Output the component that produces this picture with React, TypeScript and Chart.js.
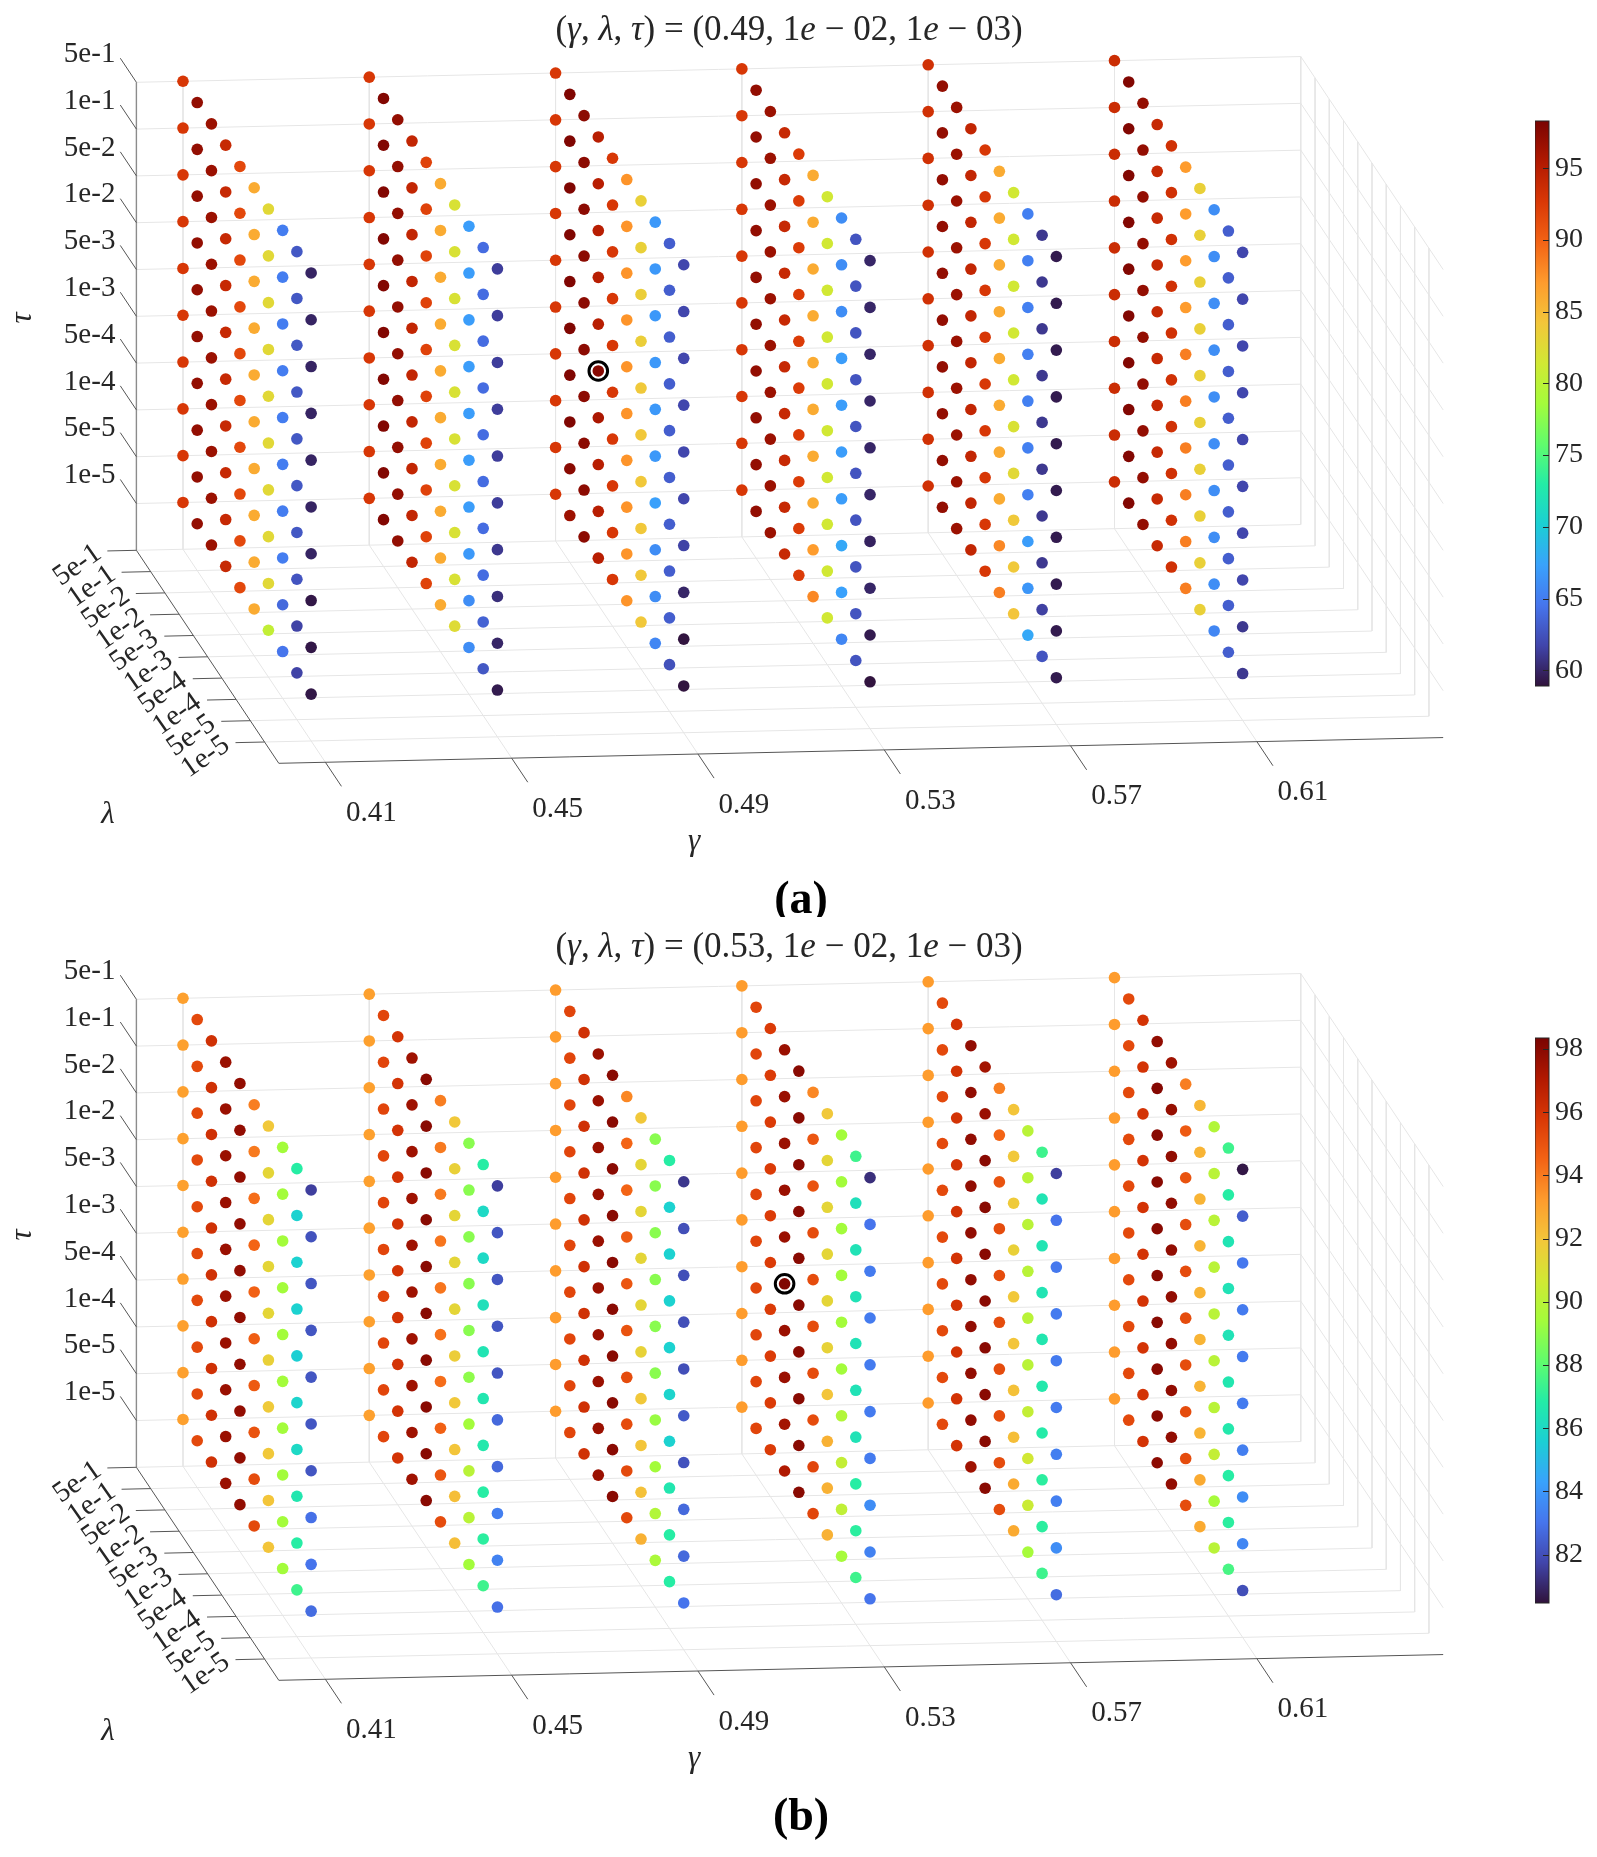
import { useEffect, useRef } from "react"
import { Chart, registerables } from "chart.js"

Chart.register(...registerables)

const gammaTicks = ["0.41", "0.45", "0.49", "0.53", "0.57", "0.61"]
const lambdaTicks = ["5e-1", "1e-1", "5e-2", "1e-2", "5e-3", "1e-3", "5e-4", "1e-4", "5e-5", "1e-5"]
const tauTicks = ["5e-1", "1e-1", "5e-2", "1e-2", "5e-3", "1e-3", "5e-4", "1e-4", "5e-5", "1e-5"]

// accuracy grids, one row per lambda, one column per tau
const a041 = [
  [92.8, 92.8, 92.8, 92.8, 92.8, 92.8, 92.8, 92.8, 92.8, 92.8],
  [97, 97, 97, 97, 97, 97, 97, 97, 97, 97],
  [96.6, 96.6, 96.6, 96.6, 96.6, 96.6, 96.6, 96.6, 96.6, 96.6],
  [94, 94, 94, 94, 94, 94, 94, 94, 94, 94],
  [91.6, 91.6, 91.6, 91.6, 91.6, 91.6, 91.6, 91.6, 91.6, 91.6],
  [86, 86, 86, 86, 86, 86, 86, 86, 86, 86],
  [82.7, 82.7, 82.7, 82.7, 82.7, 82.7, 82.7, 82.7, 82.7, 80.5],
  [65, 65, 65, 65, 65, 65, 65, 65, 63.8, 64.5],
  [62.8, 62.8, 62.8, 62.8, 62.8, 62.8, 62.8, 62.6, 61.6, 61.6],
  [59.9, 59.9, 59.9, 59.9, 59.9, 59.9, 59.9, 59.2, 59.2, 59.2],
]
const a045 = [
  [92.8, 92.8, 92.8, 92.8, 92.8, 92.8, 92.8, 92.8, 92.8, 92.8],
  [97.9, 97.9, 97.9, 97.9, 97.9, 97.9, 97.9, 97.9, 97.9, 97.9],
  [97, 97, 97, 97, 97, 97, 97, 97, 97, 97],
  [94.3, 94.3, 94.3, 94.3, 94.3, 94.3, 94.3, 94.3, 94.3, 94.3],
  [92, 92, 92, 92, 92, 92, 92, 92, 92, 92],
  [86, 86, 86, 86, 86, 86, 86, 86, 86, 86],
  [82, 82, 82, 82, 82, 82, 82, 82, 82, 82.5],
  [67, 67, 67, 67, 67, 67, 67, 66.8, 66, 66],
  [64, 64, 64, 64, 64, 64, 64, 64, 63.4, 62.8],
  [61.3, 61.3, 61.3, 61.3, 61.3, 61.3, 61, 60.5, 60, 59.4],
]
const a049 = [
  [92.8, 92.8, 92.8, 92.8, 92.8, 92.8, 92.8, 92.8, 92.8, 92.8],
  [98, 98, 98, 98, 98, 98, 98, 98, 97.5, 96.5],
  [97.4, 97.4, 97.4, 97.4, 97.4, 97.4, 97.4, 97.4, 97.4, 97.4],
  [95, 95, 95, 95, 95, 97.6, 95.8, 95, 95, 95],
  [92.8, 92.8, 92.8, 92.8, 92.8, 92.8, 92.8, 92.8, 92.8, 92.8],
  [87.4, 87.4, 87.4, 87.4, 87.4, 87.4, 87.4, 87.4, 87.4, 87.4],
  [83.4, 83.4, 83.6, 83.6, 84, 84.1, 84.1, 84.1, 84.1, 84.1],
  [66.7, 66.7, 66.7, 66.7, 66.7, 66.7, 67.2, 66, 66, 65.6],
  [63.2, 63.2, 63.2, 63.2, 63.2, 63.2, 63.2, 63.2, 63.2, 62.4],
  [61.8, 61.8, 61.8, 61.8, 61.8, 61.8, 61.6, 60, 59, 59],
]
const a053 = [
  [92.8, 92.8, 92.8, 92.8, 92.8, 92.8, 92.8, 92.8, 92.8, 92.8],
  [97, 97, 97, 97, 97, 97, 97, 97, 97, 97],
  [96.6, 96.6, 96.6, 96.6, 96.6, 96.6, 96.6, 96.6, 96.6, 96.6],
  [94, 94, 94, 94, 94, 94, 94, 94, 94, 94],
  [92.5, 92.5, 92.5, 92.5, 92.5, 92.5, 92.5, 92.5, 92.5, 92.5],
  [86, 86, 86, 86, 86, 86, 86, 86, 87, 88],
  [81.4, 81.4, 81.4, 81.4, 81.4, 81.4, 81.4, 81.4, 81.4, 81.4],
  [66, 66, 66, 67, 67, 67, 67, 67.7, 67.3, 65.6],
  [62.6, 62.6, 62.6, 62.6, 62.6, 62.6, 62.6, 62.6, 62.6, 62.6],
  [60, 60, 60, 60, 60, 60, 59.8, 60, 59.4, 59],
]
const a057 = [
  [93.3, 93.3, 93.3, 93.3, 93.3, 93.3, 93.3, 93.3, 93.3, 93.3],
  [97, 97, 97, 97, 97, 97, 97, 97, 97, 97],
  [96.6, 96.6, 96.6, 96.6, 96.6, 96.6, 96.6, 96.6, 96.6, 96.6],
  [94.3, 94.3, 94.3, 94.3, 94.3, 94.3, 94.3, 94.3, 94.3, 94.3],
  [92.8, 92.8, 92.8, 92.8, 92.8, 92.8, 92.8, 92.8, 92.8, 92.8],
  [86, 86, 86, 86, 86, 86, 86, 86, 88, 88.5],
  [81.4, 81.4, 81.4, 81.4, 81.4, 82, 82.7, 84, 84, 84.3],
  [65.2, 65.2, 65.2, 65.2, 65.2, 65.2, 65.2, 67, 66.6, 67.7],
  [61, 61, 61, 61, 61, 61, 61, 61, 61.5, 62.6],
  [59.4, 59.4, 59.4, 59.4, 59.4, 59.4, 59.4, 59.4, 59.4, 59.4],
]
const a061 = [
  [93.7, 93.7, 93.7, 93.7, 93.7, 93.7, 93.7, 93.7, 93.7, 93.7],
  [97.9, 97.9, 97.9, 97.9, 97.9, 97.9, 97.9, 97.9, 97.9, 97.9],
  [97, 97, 97, 97, 97, 97, 97, 97, 97, 97],
  [94, 94, 94, 94, 94, 94, 94, 94, 94, 94],
  [93.3, 93.3, 93.3, 93.3, 93.3, 93.3, 93.3, 93.3, 93.3, 93.3],
  [87, 87, 87, 87, 88.5, 88.5, 88.5, 88.5, 88.5, 88.5],
  [83.4, 83.4, 83.4, 83.4, 83.4, 83.4, 83.4, 83.4, 83.4, 83.4],
  [66.1, 66.1, 66.1, 66.1, 66.1, 66.1, 66.1, 66.1, 66.1, 65.6],
  [63.2, 63.2, 63.2, 63.2, 63.2, 63.2, 63.2, 63.2, 63.2, 63.2],
  [61.8, 61.8, 61.8, 61.8, 61.8, 61.8, 61.8, 61.8, 61, 61],
]

const b041 = [
  [93.1, 93.1, 93.1, 93.1, 93.1, 93.1, 93.1, 93.1, 93.1, 93.1],
  [95.3, 95.3, 95.3, 95.3, 95.3, 95.3, 95.3, 95.3, 95.3, 95.3],
  [96.1, 96.1, 96.1, 96.1, 96.1, 96.1, 96.1, 96.1, 96.1, 96.1],
  [97.6, 97.6, 97.6, 97.6, 97.6, 97.6, 97.6, 97.6, 97.6, 97.6],
  [97.8, 97.8, 97.8, 97.8, 97.8, 97.8, 97.8, 97.8, 97.8, 97.8],
  [93.9, 94, 94.3, 94.5, 94.6, 94.7, 94.8, 95, 95.2, 95.3],
  [91.9, 91.4, 91.4, 91.4, 91.4, 91.6, 91.8, 91.9, 92, 92],
  [89.4, 89.4, 89.4, 89.4, 89.4, 89.4, 89.4, 89.4, 89.4, 89.4],
  [86.9, 85.7, 85.7, 85.7, 85.6, 85.8, 86, 86.6, 86.9, 87.4],
  [81.6, 82.1, 82.2, 82.2, 82.2, 82.2, 82.2, 82.9, 83, 82.8],
]
const b045 = [
  [93.1, 93.1, 93.1, 93.1, 93.1, 93.1, 93.1, 93.1, 93.1, 93.1],
  [95.4, 95.4, 95.4, 95.4, 95.4, 95.4, 95.4, 95.4, 95.4, 95.4],
  [96, 96, 96, 96, 96, 96, 96, 96, 96, 96],
  [97.5, 97.5, 97.5, 97.5, 97.5, 97.5, 97.5, 97.5, 97.5, 97.5],
  [98, 98, 98, 98, 98, 98, 98, 98, 98, 98],
  [93.9, 94, 94, 94.1, 94.1, 94.2, 94.3, 94.6, 94.9, 95.2],
  [91.9, 91.6, 91.4, 91.4, 91.4, 91.7, 91.9, 92, 92.2, 92.2],
  [88.9, 88.9, 88.9, 88.9, 88.9, 89, 89.4, 90, 90, 89.4],
  [86.9, 86, 86, 86.3, 86.5, 86.6, 86.7, 86.9, 87, 87.4],
  [81.6, 82.2, 82.2, 82.2, 82.2, 82.7, 82.7, 83.3, 83.4, 82.9],
]
const b049 = [
  [93.2, 93.2, 93.2, 93.2, 93.2, 93.2, 93.2, 93.2, 93.2, 93.2],
  [95.4, 95.4, 95.4, 95.4, 95.4, 95.4, 95.4, 95.4, 95.4, 95.4],
  [96.1, 96.1, 96.1, 96.1, 96.1, 96.1, 96.1, 96.1, 96.1, 96.1],
  [97.6, 97.6, 97.6, 97.6, 97.6, 97.6, 97.6, 97.6, 97.6, 97.6],
  [98, 98, 98, 98, 98, 98, 98, 98, 98, 98],
  [93.7, 94.5, 94.5, 94.8, 94.9, 95, 95.2, 95.2, 95.3, 95.3],
  [91.9, 91.4, 91.4, 91.4, 91.4, 91.5, 91.9, 92, 92.1, 92.6],
  [88.9, 88.9, 88.9, 88.9, 88.9, 88.9, 89.2, 89.4, 89.8, 89.6],
  [86.9, 85.7, 85.7, 85.7, 85.7, 85.8, 85.7, 86.6, 86.9, 86.9],
  [81.4, 82, 82, 82, 82, 82.3, 82.1, 82.7, 82.7, 83],
]
const b053 = [
  [93.2, 93.2, 93.2, 93.2, 93.2, 93.2, 93.2, 93.2, 93.2, 93.2],
  [95.4, 95.4, 95.4, 95.4, 95.4, 95.4, 95.4, 95.4, 95.4, 95.4],
  [95.7, 95.7, 95.7, 95.7, 95.7, 95.7, 95.7, 95.7, 95.7, 95.7],
  [97.6, 97.6, 97.6, 97.6, 97.6, 98.2, 97.6, 97.6, 97.4, 97.1],
  [98, 98, 98, 98, 98, 98, 98, 98, 98, 98],
  [93.7, 94.9, 95, 95.2, 95.2, 95.2, 95.2, 95.2, 95.4, 95.4],
  [91.9, 91.4, 91.4, 91.4, 91.4, 91.5, 92, 92.6, 92.6, 92.6],
  [89.4, 89.4, 89.4, 89.4, 89.4, 89.4, 89.8, 90.3, 90.2, 89.5],
  [87.4, 86.3, 86.4, 86.4, 86.4, 86.4, 86.4, 86.9, 87, 87.4],
  [81.2, 83, 83.2, 83.2, 83.2, 83.2, 83.2, 83.7, 83.4, 83],
]
const b057 = [
  [93.2, 93.2, 93.2, 93.2, 93.2, 93.2, 93.2, 93.2, 93.2, 93.2],
  [95.3, 95.3, 95.3, 95.3, 95.3, 95.3, 95.3, 95.3, 95.3, 95.3],
  [96, 96, 96, 96, 96, 96, 96, 96, 96, 96],
  [97.8, 97.8, 97.8, 97.8, 97.8, 97.8, 97.8, 97.8, 97.8, 97.5],
  [97.4, 97.6, 98, 98, 98, 98, 98, 98, 98, 98],
  [93.9, 94.5, 95, 95.2, 95.2, 95.2, 95.2, 95.2, 95.2, 95.2],
  [92, 91.9, 91.8, 91.6, 91.9, 92, 92.1, 92.2, 92.8, 92.8],
  [90, 90, 90, 90, 90, 90, 90.3, 90.7, 90.5, 89.5],
  [87.4, 86.5, 86.5, 86.5, 86.6, 86.7, 86.8, 87, 87, 87.4],
  [81.6, 83, 83.1, 83.2, 83.2, 83.2, 83.3, 83.3, 83.7, 82.8],
]
const b061 = [
  [93.2, 93.2, 93.2, 93.2, 93.2, 93.2, 93.2, 93.2, 93.2, 93.2],
  [95.3, 95.3, 95.3, 95.3, 95.3, 95.3, 95.3, 95.3, 95.3, 95.3],
  [96, 96, 96, 96, 96, 96, 96, 96, 96, 96],
  [97.8, 98.1, 98, 98, 98, 98, 98, 98, 98, 97.9],
  [97.5, 97.7, 97.8, 97.8, 97.8, 97.8, 97.8, 97.8, 97.8, 97.8],
  [93.9, 94.8, 95, 95.2, 95.2, 95.2, 95.2, 95.2, 95.2, 95.2],
  [92.4, 92.5, 92.5, 92.5, 92.5, 92.5, 92.5, 92.5, 92.8, 92.8],
  [89.8, 90, 90, 90, 90, 90, 90, 90.3, 89.5, 90],
  [87.4, 86.9, 86.5, 86.4, 86.4, 86.6, 86.7, 86.9, 87, 87.6],
  [80.6, 82.4, 83.1, 83.2, 83.2, 83.2, 83.3, 83.7, 83.5, 82],
]

const gridsA = [a041, a045, a049, a053, a057, a061]
const gridsB = [b041, b045, b049, b053, b057, b061]

const turbo = [
  "#30123b", "#4145ab", "#4675ed", "#39a2fc", "#1bcfd4", "#24eca6", "#61fc6c", "#a4fc3b",
  "#d1e834", "#f3c63a", "#fe9b2d", "#f36315", "#d93806", "#b11901", "#7a0402",
]

const serif = '"Liberation Serif", serif'
const ink = "#262626"
const gammaStart = -0.25
const gammaEnd = 6

function hexToRgb(hex: string) {
  return [1, 3, 5].map((i) => parseInt(hex.slice(i, i + 2), 16))
}

function turboColor(v: number, min: number, max: number) {
  const t = Math.min(1, Math.max(0, (v - min) / (max - min))) * (turbo.length - 1)
  const i = Math.min(turbo.length - 2, Math.floor(t))
  const a = hexToRgb(turbo[i])
  const b = hexToRgb(turbo[i + 1])
  const c = a.map((n, idx) => Math.round(n + (b[idx] - n) * (t - i)))
  return `rgb(${c[0]},${c[1]},${c[2]})`
}

// oblique view of the 3d box: g = gamma index, l = lambda index, k = tau index
function project(g: number, l: number, k: number) {
  return {
    x: 136.4 + 14.24 * l + 186.3 * (g + 0.25),
    y: 82.3 + 21.3 * l + 46.8 * k - 4.12 * (g + 0.25),
  }
}

type Pt = { x: number; y: number }

function segments(list: [number, number, number, number, number, number][]) {
  const out: Pt[] = []
  list.forEach(([g0, l0, k0, g1, l1, k1]) => {
    out.push(project(g0, l0, k0), project(g1, l1, k1), { x: NaN, y: NaN })
  })
  return out
}

function gridSegments() {
  const s: [number, number, number, number, number, number][] = []
  for (let k = 0; k < 10; k++) {
    s.push([gammaStart, 0, k, gammaEnd, 0, k])
    s.push([gammaEnd, 0, k, gammaEnd, 10, k])
  }
  for (let g = 0; g < 6; g++) {
    s.push([g, 0, 0, g, 0, 10])
    s.push([g, 0, 10, g, 10, 10])
  }
  s.push([gammaEnd, 0, 0, gammaEnd, 0, 10])
  for (let l = 0; l < 10; l++) {
    s.push([gammaStart, l, 10, gammaEnd, l, 10])
    if (l > 0) s.push([gammaEnd, l, 0, gammaEnd, l, 10])
  }
  return segments(s)
}

function tickSegments() {
  const s: [number, number, number, number, number, number][] = []
  for (let k = 0; k < 10; k++) s.push([gammaStart, 0, k, gammaStart, -1.13, k])
  for (let l = 0; l < 10; l++) s.push([gammaStart, l, 10, gammaStart - 0.156, l, 10])
  for (let g = 0; g < 6; g++) s.push([g, 10, 10, g, 11.13, 10])
  s.push([gammaStart, 0, 10, gammaStart, 10, 10])
  s.push([gammaStart, 10, 10, gammaEnd, 10, 10])
  return segments(s)
}

interface PanelProps {
  grids: number[][][]
  min: number
  max: number
  gammaLabel: string
  pick: [number, number, number]
  label: string
  top: number
  height: number
}

function Panel({ grids, min, max, gammaLabel, pick, label, top, height }: PanelProps) {
  const chartRef = useRef<HTMLCanvasElement | null>(null)

  useEffect(() => {
    if (!chartRef.current) return

    const points: Pt[] = []
    const colors: string[] = []
    grids.forEach((grid, g) => {
      grid.forEach((row, l) => {
        row.forEach((v, k) => {
          points.push(project(g, l, k))
          colors.push(turboColor(v, min, max))
        })
      })
    })

    const textPlugin = {
      id: "boxText",
      afterDraw(chart: any) {
        const { ctx, scales } = chart
        const px = (p: Pt) => ({ x: scales.x.getPixelForValue(p.x), y: scales.y.getPixelForValue(p.y) })
        ctx.save()
        ctx.fillStyle = ink
        ctx.textBaseline = "middle"

        ctx.font = `29px ${serif}`
        ctx.textAlign = "right"
        tauTicks.forEach((t, k) => {
          const p = px(project(gammaStart, 0, k))
          ctx.fillText(t, p.x - 21, p.y - 28)
        })
        ctx.textAlign = "center"
        gammaTicks.forEach((t, g) => {
          const p = px(project(g, 10, 10))
          ctx.fillText(t, p.x + 46, p.y + 51)
        })
        lambdaTicks.forEach((t, l) => {
          const p = px(project(gammaStart, l, 10))
          ctx.save()
          ctx.translate(p.x - 59, p.y + 15)
          ctx.rotate((-35 * Math.PI) / 180)
          ctx.fillText(t, 0, 0)
          ctx.restore()
        })

        ctx.font = `italic 31px ${serif}`
        ctx.fillText("\u03bb", 108, 815)
        ctx.fillText("\u03b3", 694, 842)
        ctx.save()
        ctx.translate(23, 318)
        ctx.rotate(-Math.PI / 2)
        ctx.fillText("\u03c4", 0, 0)
        ctx.restore()

        // title, mixed upright and italic runs
        const runs: [string, boolean][] = [
          ["(", false], ["\u03b3", true], [", ", false], ["\u03bb", true], [", ", false], ["\u03c4", true],
          [`) = (${gammaLabel}, 1`, false], ["e", true], [" \u2212 02, 1", false], ["e", true], [" \u2212 03)", false],
        ]
        const fontFor = (it: boolean) => `${it ? "italic " : ""}35px ${serif}`
        let w = 0
        runs.forEach(([t, it]) => {
          ctx.font = fontFor(it)
          w += ctx.measureText(t).width
        })
        let x = 789 - w / 2
        ctx.textAlign = "left"
        runs.forEach(([t, it]) => {
          ctx.font = fontFor(it)
          ctx.fillText(t, x, 31)
          x += ctx.measureText(t).width
        })

        ctx.fillStyle = "#000"
        ctx.textAlign = "center"
        ctx.font = `bold 46px ${serif}`
        ctx.fillText(label, 801, 901)
        ctx.restore()
      },
    }

    const chart = new Chart(chartRef.current, {
      type: "scatter",
      data: {
        datasets: [
          {
            data: [project(pick[0], pick[1], pick[2])],
            pointRadius: 9.3,
            pointBorderWidth: 3,
            pointBorderColor: "#000",
            pointBackgroundColor: "rgba(0,0,0,0)",
            order: 0,
          },
          {
            data: points,
            pointRadius: 5.8,
            pointBorderWidth: 0,
            pointBackgroundColor: colors,
            order: 1,
          },
          {
            data: tickSegments(),
            showLine: true,
            pointRadius: 0,
            borderColor: "#555555",
            borderWidth: 1,
            spanGaps: false,
            order: 2,
          },
          {
            data: segments([[gammaStart, 0, 0, gammaStart, 0, 10]]),
            showLine: true,
            pointRadius: 0,
            borderColor: "#8c8c8c",
            borderWidth: 1.4,
            order: 3,
          },
          {
            data: gridSegments(),
            showLine: true,
            pointRadius: 0,
            borderColor: "#e6e6e6",
            borderWidth: 1,
            spanGaps: false,
            order: 4,
          },
        ],
      } as any,
      options: {
        responsive: false,
        animation: false,
        devicePixelRatio: 1,
        events: [],
        layout: { padding: 0, autoPadding: false },
        plugins: { legend: { display: false }, tooltip: { enabled: false } },
        scales: {
          x: { type: "linear", display: false, min: 0, max: 1597 },
          y: { type: "linear", display: false, min: 0, max: height, reverse: true },
        },
      },
      plugins: [textPlugin],
    })

    return () => chart.destroy()
  }, [grids, min, max, gammaLabel, pick, label, height])

  return (
    <canvas
      ref={chartRef}
      width={1597}
      height={height}
      style={{ position: "absolute", left: 0, top, display: "block" }}
    ></canvas>
  )
}

interface ColorBarProps {
  min: number
  max: number
  step: number
  top: number
}

function ColorBar({ min, max, step, top }: ColorBarProps) {
  const chartRef = useRef<HTMLCanvasElement | null>(null)

  useEffect(() => {
    if (!chartRef.current) return

    const framePlugin = {
      id: "barFrame",
      afterDraw(chart: any) {
        const { ctx, chartArea, scales } = chart
        ctx.save()
        ctx.strokeStyle = ink
        ctx.lineWidth = 1
        ctx.strokeRect(chartArea.left, chartArea.top, chartArea.width, chartArea.height)
        scales.y.ticks.forEach((t: any) => {
          const y = Math.round(scales.y.getPixelForValue(t.value)) + 0.5
          ctx.beginPath()
          ctx.moveTo(chartArea.right, y)
          ctx.lineTo(chartArea.right - 6, y)
          ctx.stroke()
        })
        ctx.restore()
      },
    }

    const chart = new Chart(chartRef.current, {
      type: "bar",
      data: {
        labels: [""],
        datasets: [
          {
            data: [[min, max]],
            barPercentage: 1,
            categoryPercentage: 1,
            borderWidth: 0,
            backgroundColor: (c: any) => {
              const area = c.chart.chartArea
              if (!area) return "#000"
              const g = c.chart.ctx.createLinearGradient(0, area.bottom, 0, area.top)
              turbo.forEach((col, i) => g.addColorStop(i / (turbo.length - 1), col))
              return g
            },
          },
        ],
      } as any,
      options: {
        responsive: false,
        animation: false,
        devicePixelRatio: 1,
        events: [],
        layout: { padding: { top: 16, bottom: 16 }, autoPadding: false },
        plugins: { legend: { display: false }, tooltip: { enabled: false } },
        scales: {
          x: { display: false },
          y: {
            position: "right",
            min,
            max,
            grid: { display: false, drawTicks: false },
            border: { display: false },
            ticks: {
              stepSize: step,
              includeBounds: false,
              padding: 6,
              color: ink,
              font: { family: serif, size: 28 },
            },
            // tick labels must not shrink the bar
            afterFit: (s: any) => {
              s.width = 48
              s.paddingTop = 0
              s.paddingBottom = 0
            },
          },
        },
      } as any,
      plugins: [framePlugin],
    })

    return () => chart.destroy()
  }, [min, max, step])

  return (
    <canvas
      ref={chartRef}
      width={62}
      height={597}
      style={{ position: "absolute", left: 1535, top: top - 16, display: "block" }}
    ></canvas>
  )
}

export default function App() {
  return (
    <div style={{ position: "absolute", left: 0, top: 0, width: 1597, height: 1857, background: "#fff", overflow: "hidden" }}>
      <Panel grids={gridsA} min={58.9} max={98.3} gammaLabel="0.49" pick={[2, 3, 5]} label="(a)" top={0} height={917} />
      <Panel grids={gridsB} min={80.47} max={98.35} gammaLabel="0.53" pick={[3, 3, 5]} label="(b)" top={917} height={940} />
      <ColorBar min={58.9} max={98.3} step={5} top={121} />
      <ColorBar min={80.47} max={98.35} step={2} top={1038} />
    </div>
  )
}
